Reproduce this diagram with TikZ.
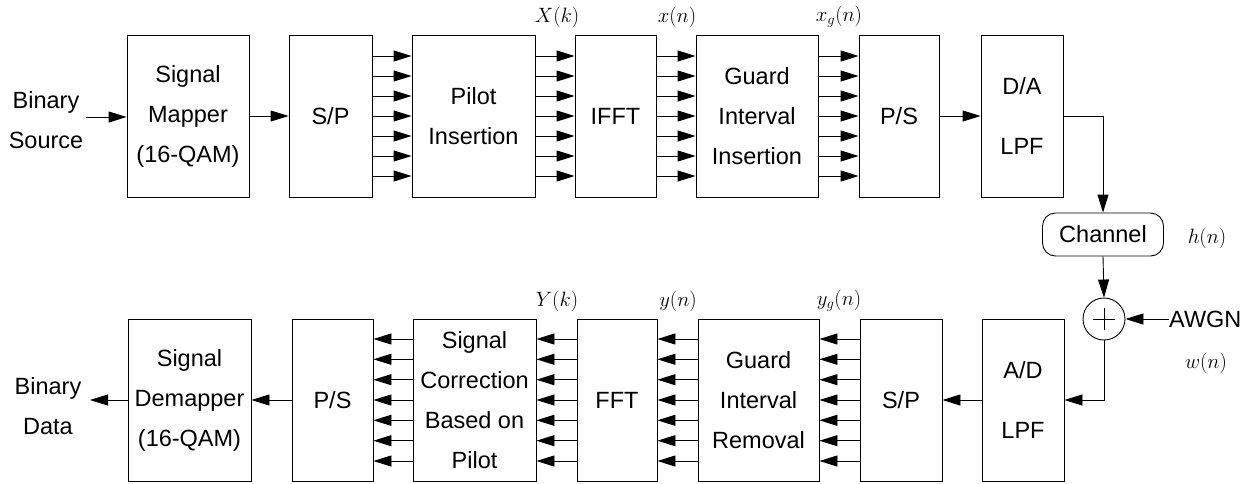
\documentclass[tikz,border=0pt]{standalone}
\usepackage{fontspec}
\setmainfont{Liberation Sans}
\usetikzlibrary{arrows.meta}
\begin{document}
\begin{tikzpicture}[x=1pt,y=-1pt,
  blk/.style={draw,line width=0.9pt,minimum height=162pt,inner sep=0pt,align=center,
    font=\fontsize{23.5}{40}\selectfont},
  lbl/.style={inner sep=0pt,font=\fontsize{23.5}{40}\selectfont,align=center},
  mth/.style={inner sep=0pt,font=\fontsize{22}{24}\selectfont},
  arr/.style={line width=0.9pt,-{Triangle[length=18pt,width=11pt]}},
  ln/.style={line width=0.9pt}]
\useasboundingbox (0,0) rectangle (1258,483);
% top row
\node[blk,minimum width=122pt] (map) at (188,116) {Signal\\Mapper\\(16-QAM)};
\node[blk,minimum width=83pt] (sp1) at (330.5,116) {S/P};
\node[blk,minimum width=123pt] (pilot) at (473.5,116) {Pilot\\Insertion};
\node[blk,minimum width=81pt] (ifft) at (615.5,116) {IFFT};
\node[blk,minimum width=122pt] (gii) at (757,116) {Guard\\Interval\\Insertion};
\node[blk,minimum width=80pt] (ps1) at (899,116) {P/S};
\node[blk,minimum width=82pt] (da) at (1022,116) {D/A\\[20pt]LPF};
% bottom row
\node[blk,minimum width=123pt] (demap) at (189.5,400) {Signal\\Demapper\\(16-QAM)};
\node[blk,minimum width=81pt] (ps2) at (332.5,400) {P/S};
\node[blk,minimum width=123pt] (scorr) at (474.5,400) {Signal\\Correction\\Based on\\Pilot};
\node[blk,minimum width=80pt] (fft) at (617,400) {FFT};
\node[blk,minimum width=121pt] (gir) at (758.5,400) {Guard\\Interval\\Removal};
\node[blk,minimum width=82pt] (sp2) at (901,400) {S/P};
\node[blk,minimum width=82pt] (ad) at (1023,400) {A/D\\[20pt]LPF};
% channel & sum
\node[draw,line width=0.9pt,rounded corners=13pt,minimum width=121pt,minimum height=43pt,
  inner sep=0pt,font=\fontsize{23.5}{28}\selectfont] (chan) at (1103,234.5) {Channel};
\node[draw,circle,line width=0.9pt,minimum size=42pt,inner sep=0pt] (sum) at (1104,319) {};
\draw[ln] ([xshift=-11pt]sum.center) -- ([xshift=11pt]sum.center)
          ([yshift=-11pt]sum.center) -- ([yshift=11pt]sum.center);
% labels
\node[lbl] (bsrc) at (46,120) {Binary\\Source};
\node[lbl] (bdat) at (48,406) {Binary\\Data};
\node[lbl,anchor=west] (awgn) at (1169,319) {AWGN};
\node[mth] (hn) at (1207,238) {$h(n)$};
\node[mth] (wn) at (1206,363) {$w(n)$};
\node[mth] (Xk) at (557,17) {$X(k)$};
\node[mth] (xn) at (677,17) {$x(n)$};
\node[mth] (xgn) at (839,17) {$x_g(n)$};
\node[mth] (Yk) at (557,301) {$Y(k)$};
\node[mth] (yn) at (678,301) {$y(n)$};
\node[mth] (ygn) at (839,301) {$y_g(n)$};
% single arrows
\coordinate (bs) at (86,117);
\draw[arr] (bs) -- (map.west|-bs);
\draw[arr] (map.east) -- (sp1.west);
\draw[arr] (ps1.east) -- (da.west);
\draw[arr] (da.east) -| (chan.north);
\draw[arr] (chan.south) -- (sum.north);
\draw[arr] (awgn.west) -- (sum.east);
\draw[arr] (sum.south) |- (ad.east);
\draw[arr] (ad.west) -- (sp2.east);
\draw[arr] (ps2.west) -- (demap.east);
\coordinate (bd) at (90,400);
\draw[arr] (demap.west) -- (bd);
% parallel arrows
\foreach \d in {-60,-40,-20,0,20,40,60}{
  \draw[arr] ([yshift=\d pt]sp1.east) -- ([yshift=\d pt]pilot.west);
  \draw[arr] ([yshift=\d pt]pilot.east) -- ([yshift=\d pt]ifft.west);
  \draw[arr] ([yshift=\d pt]ifft.east) -- ([yshift=\d pt]gii.west);
  \draw[arr] ([yshift=\d pt]gii.east) -- ([yshift=\d pt]ps1.west);
}
\foreach \d in {-61,-40.7,-20.3,0,20.3,40.7,61}{
  \draw[arr] ([yshift=\d pt]sp2.west) -- ([yshift=\d pt]gir.east);
  \draw[arr] ([yshift=\d pt]gir.west) -- ([yshift=\d pt]fft.east);
  \draw[arr] ([yshift=\d pt]fft.west) -- ([yshift=\d pt]scorr.east);
  \draw[arr] ([yshift=\d pt]scorr.west) -- ([yshift=\d pt]ps2.east);
}
\end{tikzpicture}
\end{document}
